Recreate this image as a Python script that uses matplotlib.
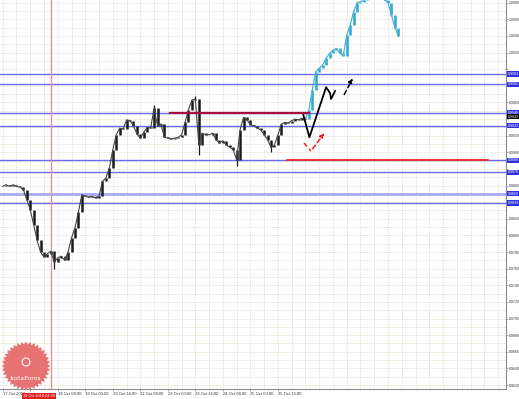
import numpy as np
import matplotlib.pyplot as plt

plt.rcParams["font.family"] = ["Liberation Sans", "DejaVu Sans"]

# closes every 2 hours, bar 0 = 17 Oct 2018 00:00 (H1 bars)
closes = [0.9859, 0.9861, 0.9859, 0.9861, 0.9859, 0.9858, 0.9855, 0.9843, 0.9831, 0.9813,
          0.9794, 0.9780, 0.9774, 0.9778, 0.9781, 0.9768, 0.9773, 0.9775, 0.9770, 0.9780,
          0.9797, 0.9809, 0.9828, 0.9849, 0.9847, 0.9846, 0.9847, 0.9845, 0.9847, 0.9865,
          0.9869, 0.9881, 0.9903, 0.9921, 0.9929, 0.9928, 0.9939, 0.9938, 0.9932, 0.9922,
          0.9917, 0.9924, 0.9930, 0.9929, 0.9953, 0.9932, 0.9934, 0.9918, 0.9917, 0.9916,
          0.9917, 0.9918, 0.9921, 0.9936, 0.9951, 0.9963, 0.9964, 0.9909, 0.9923, 0.9921,
          0.9921, 0.9923, 0.9915, 0.9911, 0.9914, 0.9909, 0.9906, 0.9903, 0.9891, 0.9927,
          0.9942, 0.9939, 0.9933, 0.9932, 0.9929, 0.9927, 0.9921, 0.9915, 0.9906, 0.9909,
          0.9921, 0.9934, 0.9936, 0.9935, 0.9938, 0.9940, 0.9939, 0.9941, 0.9940]

# later move pasted in cyan, starts at the last black bar
after_closes = [0.9940, 0.9951, 0.9975, 0.9997, 1.0001, 1.0005, 1.0013, 1.0019, 1.0023, 1.0025,
                1.0019, 1.0016, 1.0041, 1.0053, 1.0069, 1.0080, 1.0081, 1.0083, 1.0086, 1.0089,
                1.0093, 1.0093, 1.0089, 1.0083, 1.0080, 1.0065, 1.0050, 1.0040]
bar_step = 2

spike_bars = [15, 44, 56, 57, 68, 78]
spike_prices = [0.9760, 0.9957, 0.9968, 0.9897, 0.9883, 0.9900]

levels = [0.99942, 0.99818, 0.99476, 0.99322, 0.98903, 0.98759, 0.98504, 0.98390]
bid = 0.99428

resist_price = 0.99476
resist_bars = [97, 178]
support_price = 0.98903
support_bars = [165, 282]

marker_bar = 28
marker_label = "18 Oct 2018 04:00"

time_ticks = [0, 16, 32, 48, 64, 80, 96, 112, 128, 144, 160]
time_labels = ["17 Oct 2018", "", "18 Oct 08:00", "19 Oct 00:00", "19 Oct 16:00",
               "22 Oct 08:00", "23 Oct 00:00", "23 Oct 16:00", "24 Oct 08:00", "25 Oct 00:00",
               "25 Oct 16:00"]

# hand drawn scenario
path_x = [174.8, 178.3, 188.0, 190.3, 190.9, 193.2]
path_y = [0.99448, 0.99180, 0.99782, 0.99713, 0.99641, 0.99737]
dash_x = [197.8, 204.2]
dash_y = [0.99665, 0.99918]
red_x = [175.2, 179.2, 188.0]
red_y = [0.99111, 0.99015, 0.99256]

W, H = 519, 399
fig = plt.figure(figsize=(W / 100, H / 100), dpi=100)
fig.patch.set_facecolor("white")
ax = fig.add_axes([0, 10 / H, 506 / W, 389 / H])
ax.set_xlim(-1.57, 292.6)
ax.set_ylim(0.96152, 1.00832)

# grid
for p in np.arange(0.962, 1.0085, 0.001):
    ax.axhline(p, color="#dcdcc8", lw=0.6, ls=(0, (1, 1)), zorder=0)
for t in np.arange(0, 292, 8):
    ax.axvline(t, color="#dcdcc8", lw=0.6, ls=(0, (1, 1)), zorder=0)

# levels
for lv in levels:
    if lv == 0.98504:
        ax.axhline(lv, color="#a7a9ff", lw=2.0, zorder=1)
    else:
        ax.axhline(lv, color="#6b6bf0", lw=1.0, zorder=1)

ax.axvline(marker_bar, color="#f08a8a", lw=0.9, zorder=1)

# black candles
xs = np.arange(len(closes)) * bar_step
prev = [closes[0]] + closes[:-1]
ax.vlines(xs, np.minimum(prev, closes), np.maximum(prev, closes), color="#1a1a1a", lw=1.8, zorder=3)
ax.plot(xs, closes, color="#444444", lw=0.8, zorder=3)
for b, sp in zip(spike_bars, spike_prices):
    ax.vlines(b * bar_step, min(sp, closes[b]), max(sp, closes[b]), color="#1a1a1a", lw=0.9, zorder=3)

# cyan candles
xa = (len(closes) - 1 + np.arange(len(after_closes))) * bar_step
preva = [after_closes[0]] + after_closes[:-1]
ax.vlines(xa, np.minimum(preva, after_closes), np.maximum(preva, after_closes), color="#36a9d0", lw=1.9, zorder=3)
ax.plot(xa, after_closes, color="#4ab3d6", lw=0.9, zorder=3)

ax.plot(resist_bars, [resist_price] * 2, color="#a3123f", lw=1.6, zorder=4)
ax.plot(support_bars, [support_price] * 2, color="#f22a2a", lw=1.3, zorder=4)

ax.plot(path_x, path_y, color="black", lw=1.3, zorder=5)
ax.annotate("", xy=(dash_x[1], dash_y[1]), xytext=(dash_x[0], dash_y[0]),
            arrowprops=dict(arrowstyle="-|>", color="black", lw=1.1, ls=(0, (3, 2)),
                            mutation_scale=6), zorder=5)
ax.plot(red_x[:2], red_y[:2], color="#ee2222", lw=1.1, ls=(0, (3, 2)), zorder=5)
ax.annotate("", xy=(red_x[2], red_y[2]), xytext=(red_x[1], red_y[1]),
            arrowprops=dict(arrowstyle="-|>", color="#ee2222", lw=1.1, ls=(0, (3, 2)),
                            mutation_scale=6), zorder=5)

# axes look
for s in ["top", "left"]:
    ax.spines[s].set_visible(False)
for s in ["right", "bottom"]:
    ax.spines[s].set_color("#8c8c8c")
    ax.spines[s].set_linewidth(0.8)
ax.yaxis.tick_right()
yt = np.arange(0.962, 1.0085, 0.002)
boxed = levels + [bid]
# tick labels hidden behind the coloured price boxes
ylabels = ["" if min(abs(v - b) for b in boxed) < 0.0007 else "%.4f" % v for v in yt]
ax.set_yticks(yt)
ax.set_yticklabels(ylabels, fontsize=2.6)
ax.set_xticks(time_ticks)
ax.set_xticklabels(time_labels, fontsize=3, ha="left")
ax.tick_params(axis="y", length=1.2, width=0.5, pad=0.6, colors="#8c8c8c", labelcolor="#333333")
ax.tick_params(axis="x", length=1.5, width=0.5, pad=1, colors="#8c8c8c", labelcolor="#333333")

# price labels on the right axis
for lv in levels:
    ax.text(1.004, lv, "%.4f" % lv, transform=ax.get_yaxis_transform(), fontsize=2.6, color="white",
            va="center", ha="left", clip_on=False,
            bbox=dict(boxstyle="square,pad=0.2", fc="#3030e0", ec="none"), zorder=6)
ax.text(1.004, bid, "%.4f" % bid, transform=ax.get_yaxis_transform(), fontsize=2.6, color="white",
        va="center", ha="left", clip_on=False,
        bbox=dict(boxstyle="square,pad=0.2", fc="black", ec="none"), zorder=6)
ax.text(marker_bar + 2.5, -0.012, marker_label, transform=ax.get_xaxis_transform(), fontsize=2.8,
        color="white", va="top", ha="right", clip_on=False,
        bbox=dict(boxstyle="square,pad=0.25", fc="#e02020", ec="none"), zorder=6)

# InstaForex logo
ov = fig.add_axes([0, 0, 1, 1], facecolor="none")
ov.set_xlim(0, W)
ov.set_ylim(H, 0)
ov.axis("off")
ang = np.linspace(0, 2 * np.pi, 73)[:-1]
rad = np.where(np.arange(72) % 2 == 0, 24.5, 21.5)
ov.fill(26 + rad * np.cos(ang), 366 + rad * np.sin(ang), color="#e55a5a", alpha=0.85, lw=0)
ov.text(26, 378, "InstaForex", color="white", fontsize=4.2, ha="center", va="center",
        family="DejaVu Serif")
ov.add_patch(plt.Circle((26, 362), 4, color="white", fill=False, lw=0.8))

fig.savefig("out.png", dpi=100)
